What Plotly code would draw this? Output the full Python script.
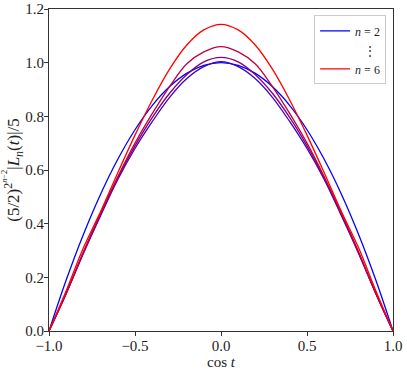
import plotly.graph_objects as go

# cos t sample points (left half, mirrored for the right half)
x_half = [-1.0, -0.9, -0.8, -0.7, -0.6, -0.5, -0.4, -0.3, -0.2, -0.1, 0.0]

n2_half = [0.0, 0.19, 0.36, 0.51, 0.64, 0.75, 0.84, 0.91, 0.96, 0.99, 1.0]
n3_half = [0.0, 0.14, 0.29, 0.43, 0.565, 0.68, 0.78, 0.87, 0.94, 0.985, 1.004]
n4_half = [0.0, 0.14, 0.29, 0.435, 0.57, 0.69, 0.795, 0.885, 0.955, 1.003, 1.02]
n5_half = [0.0, 0.14, 0.295, 0.44, 0.575, 0.70, 0.81, 0.91, 0.995, 1.04, 1.06]
n6_half = [0.0, 0.15, 0.31, 0.445, 0.59, 0.73, 0.86, 0.975, 1.065, 1.122, 1.143]

n_values = [2, 3, 4, 5, 6]
colors = ["rgb(0,0,255)", "rgb(64,0,191)", "rgb(128,0,128)", "rgb(191,0,64)", "rgb(255,0,0)"]

x_ticks = [-1.0, -0.5, 0.0, 0.5, 1.0]
y_ticks = [0.0, 0.2, 0.4, 0.6, 0.8, 1.0, 1.2]


def mirror(vals):
    return vals + vals[-2::-1]


x_full = x_half + [-v for v in x_half[-2::-1]]
curves = [mirror(c) for c in (n2_half, n3_half, n4_half, n5_half, n6_half)]

FONT = "Liberation Serif, DejaVu Serif, serif"
AXIS_COLOR = "#333333"
TEXT_COLOR = "#222222"

fig = go.Figure()

for n, ys, col in zip(n_values, curves, colors):
    fig.add_trace(
        go.Scatter(
            x=x_full,
            y=ys,
            mode="lines",
            line=dict(color=col, width=1.3, shape="spline", smoothing=1.0),
            name=f"<i>n</i> = {n}",
            showlegend=n in (2, 6),
            legendrank=1 if n == 2 else 3,
        )
    )

# spacer legend entry with vertical dots
fig.add_trace(
    go.Scatter(
        x=[None],
        y=[None],
        mode="lines",
        line=dict(color="rgba(0,0,0,0)", width=1),
        name="   ⋮",
        legendrank=2,
    )
)

axis_common = dict(
    showgrid=False,
    zeroline=False,
    showline=True,
    linecolor=AXIS_COLOR,
    linewidth=1,
    mirror=True,
    ticks="outside",
    ticklen=4,
    tickwidth=1,
    tickcolor=AXIS_COLOR,
    ticklabelstandoff=-3,
    tickfont=dict(family=FONT, size=15, color=TEXT_COLOR),
)

fig.update_xaxes(
    range=[-1.0, 1.0],
    tickvals=x_ticks,
    ticktext=[f"{v:.1f}".replace("-", "−") for v in x_ticks],
    title=dict(text="cos <i>t</i>", font=dict(family=FONT, size=15, color=TEXT_COLOR), standoff=2),
    **axis_common,
)
fig.update_yaxes(
    range=[0.0, 1.2],
    tickvals=y_ticks,
    ticktext=[f"{v:.1f}" for v in y_ticks],
    title=dict(
        text="(5/2)<sup>2<sup><i>n</i>−2</sup></sup>|<i>L<sub>n</sub></i>(<i>t</i>)|/5",
        font=dict(family=FONT, size=17, color=TEXT_COLOR),
        standoff=0,
    ),
    **axis_common,
)

fig.update_layout(
    width=407,
    height=371,
    margin=dict(l=49, r=14, t=9, b=40, autoexpand=False),
    paper_bgcolor="white",
    plot_bgcolor="white",
    legend=dict(
        x=0.98,
        y=0.98,
        xanchor="right",
        yanchor="top",
        bgcolor="white",
        bordercolor="#cccccc",
        borderwidth=1,
        font=dict(family=FONT, size=12, color=TEXT_COLOR),
        itemwidth=30,
        tracegroupgap=0,
    ),
    showlegend=True,
)

fig.write_html(
    "out.html",
    config={"displayModeBar": False},
    post_script="document.body.style.margin='0';",
)
